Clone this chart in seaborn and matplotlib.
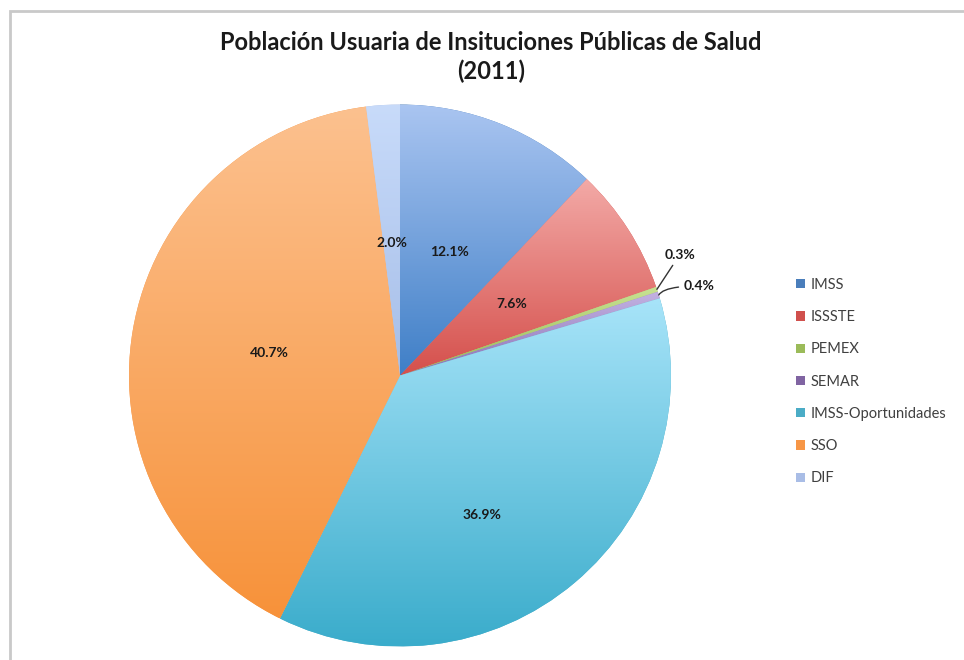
import matplotlib
matplotlib.use("Agg")
import matplotlib.pyplot as plt
import matplotlib.colors as mcolors
from matplotlib.patches import Rectangle
import numpy as np
import seaborn as sns

# datos del grafico
instituciones = ['IMSS', 'ISSSTE', 'PEMEX', 'SEMAR', 'IMSS-Oportunidades', 'SSO', 'DIF']
porcentajes = [12.1, 7.6, 0.3, 0.4, 36.9, 40.7, 2.0]

# color claro (arriba) y oscuro (abajo) de cada rebanada
claros = ['#aac5f1', '#f3aaa7', '#c8e293', '#c3b2e2', '#a8e4f9', '#fcc18f', '#c8dbfa']
oscuros = ['#3f7fc7', '#d5504c', '#98b956', '#8a72b6', '#3aaccb', '#f7923a', '#a6bee8']
leyenda_col = ['#4a7ebb', '#d0504d', '#9bbb59', '#8064a2', '#4bacc6', '#f79646', '#a9bde6']

sns.set_theme(style='white')
plt.rcParams['font.family'] = ['Lato', 'DejaVu Sans']

fig = plt.figure(figsize=(9.64, 6.6), dpi=100)

# marco gris del grafico
fig.patches.append(Rectangle((10 / 964, -0.05), 1.1, 1 - 11 / 660 + 0.05,
                             transform=fig.transFigure, fill=False,
                             edgecolor='#c9c9c9', linewidth=2))

# eje con el pastel: centro (400, 375.5) px, radio 271 px
r = 271
ax = fig.add_axes([(400 - r) / 964, (660 - 375.5 - r) / 660, 2 * r / 964, 2 * r / 660])

wedges, textos, autotextos = ax.pie(
    porcentajes, labels=None, colors=leyenda_col, startangle=90, counterclock=False,
    autopct='%1.1f%%', pctdistance=0.49, radius=1,
    wedgeprops=dict(linewidth=0),
    textprops=dict(fontsize=10, fontweight='bold', color='#1a1a1a'))

ax.set_xlim(-1, 1)
ax.set_ylim(-1, 1)
ax.set_aspect('auto')
ax.axis('off')

# degradado vertical dentro de cada rebanada
for w, c1, c2 in zip(wedges, claros, oscuros):
    bb = w.get_path().get_extents()
    cmap = mcolors.LinearSegmentedColormap.from_list('g', [c2, c1])
    grad = np.linspace(0, 1, 256).reshape(-1, 1)
    im = ax.imshow(grad, cmap=cmap, origin='lower', aspect='auto',
                   extent=[bb.x0, bb.x1, bb.y0, bb.y1], zorder=2)
    im.set_clip_path(w)
for t in autotextos:
    t.set_zorder(5)

# etiqueta de IMSS-Oportunidades mas abajo
autotextos[4].set_position((0.303, -0.515))

# etiquetas pequenas fuera del pastel con linea guia
acum = np.cumsum([0] + porcentajes)
pos_txt = {2: (0.975, 0.445), 3: (1.045, 0.330)}
estilos = {2: 'arc3,rad=0', 3: 'angle3,angleA=0,angleB=60'}
for i, (tx, ty) in pos_txt.items():
    ang = np.deg2rad(90 - (acum[i] + porcentajes[i] / 2) * 3.6)
    ex, ey = np.cos(ang), np.sin(ang)
    autotextos[i].set_visible(False)
    ax.annotate(autotextos[i].get_text(), xy=(ex, ey), xytext=(tx, ty),
                fontsize=10, fontweight='bold', color='#1a1a1a',
                ha='left', va='center', zorder=6, annotation_clip=False,
                arrowprops=dict(arrowstyle='-', color='#333333', lw=1,
                                shrinkA=1, shrinkB=0,
                                connectionstyle=estilos[i]))

fig.text(0.509, 1 - 31 / 660,
         'Población Usuaria de Insituciones Públicas de Salud\n(2011)',
         ha='center', va='top', fontsize=17, fontweight='bold', color='#1a1a1a',
         linespacing=1.3)

leg = fig.legend(wedges, instituciones, loc='upper left',
                 bbox_to_anchor=(796 / 964, 1 - 278 / 660), frameon=False,
                 fontsize=10.5, handlelength=0.6, handleheight=0.6,
                 handletextpad=0.4, labelspacing=1.25, borderaxespad=0,
                 borderpad=0, labelcolor='#404040')

fig.savefig('out.png', dpi=100)
